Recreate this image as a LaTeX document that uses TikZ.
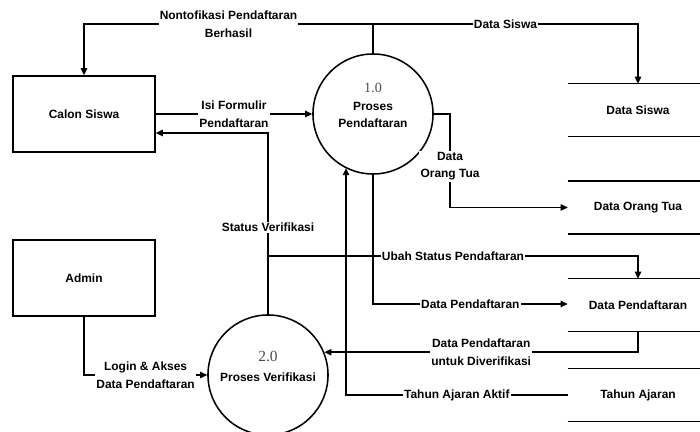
\documentclass[tikz,border=0pt]{standalone}
\usepackage{fontspec}
\setmainfont{Liberation Sans}
\newfontfamily\numfont{Liberation Serif}
\usetikzlibrary{arrows.meta}
\tikzstyle{entity} = [rectangle, minimum width=3.55cm, minimum height=1.9cm, text centered, draw=black, line width=1.1pt, font=\fontsize{8.5}{12.5}\selectfont\bfseries]
\tikzstyle{process} = [circle, minimum size=3cm, inner sep=0pt, draw=black, line width=1.1pt]
\tikzstyle{proctext} = [align=center, yshift=6pt, font=\fontsize{8.5}{12.5}\selectfont\bfseries]
\tikzstyle{datastore} = [rectangle, minimum width=3.5cm, minimum height=1.3cm, inner sep=0pt, text centered, font=\fontsize{8.5}{12.5}\selectfont\bfseries]
\tikzstyle{lbl} = [fill=white, inner sep=0.8pt, align=center, font=\fontsize{8.5}{12.5}\selectfont\bfseries]
\tikzstyle{arrow} = [line width=1.1pt,-{Triangle[length=5pt,width=4.5pt]}]

\begin{document}
\begin{tikzpicture}[x=0.025cm, y=-0.025cm]
    \useasboundingbox (0,0) rectangle (700,432);
    % Nodes
    \node (calon) [entity] at (84,114) {Calon Siswa};
    \node (admin) [entity] at (84,278) {Admin};
    \node (p1) [process, label={[proctext]center:{{\numfont\mdseries\color{black!70}\fontsize{10}{12}\selectfont 1.0}\\Proses\\Pendaftaran}}] at (373,114) {};
    \node (p2) [process, label={[proctext]center:{{\numfont\mdseries\color{black!70}\fontsize{11}{13}\selectfont 2.0}\\[2pt]Proses Verifikasi}}] at (268,375) {};
    \node (dsiswa) [datastore] at (638,110) {Data Siswa};
    \node (dortu) [datastore] at (638,207.5) {Data Orang Tua};
    \node (dpend) [datastore] at (638,305) {Data Pendaftaran};
    \node (tahun) [datastore] at (638,395) {Tahun Ajaran};
    \foreach \s in {dsiswa,dortu,dpend,tahun}
        \draw [line width=1.1pt] (\s.north west) -- (\s.north east) (\s.south west) -- (\s.south east);

    % Bends
    \coordinate (top) at (373,24);
    \coordinate (notif) at (84,24);
    \coordinate (sv) at (268,133);
    \coordinate (us) at (268,256);
    \coordinate (dp) at (373,304);
    \coordinate (ot) at (450,114);
    \coordinate (ta) at (346,395);

    % Arrows
    \draw [arrow] (p1.north) -- (top) -- node[lbl]{Nontofikasi Pendaftaran\\Berhasil} (notif) -- (calon.north);
    \draw [arrow] (top) -- node[lbl]{Data Siswa} (dsiswa.north |- top) -- (dsiswa.north);
    \draw [arrow] (calon.east) -- node[lbl]{Isi Formulir\\Pendaftaran} (p1.west);
    \draw [arrow] (p2.north) -- node[lbl, pos=0.48]{Status Verifikasi} (sv) -- (calon.east |- sv);
    \draw [arrow] (us) -- node[lbl]{Ubah Status Pendaftaran} (dpend.north |- us) -- (dpend.north);
    \draw [arrow] (p1.south) -- (dp) -- node[lbl]{Data Pendaftaran} (dpend.west |- dp);
    \draw [arrow] (dpend.south) |- node[lbl, pos=0.75]{Data Pendaftaran\\untuk Diverifikasi} (p2.22);
    \draw [arrow] (tahun.west) -- node[lbl]{Tahun Ajaran Aktif} (ta) -- (ta |- p1.243);
    \draw [arrow] (p1.east) -- (ot) |- node[lbl, pos=0.28]{Data\\Orang Tua} (dortu.west);
    \draw [arrow] (admin.south) |- node[lbl, pos=0.75]{Login \& Akses\\Data Pendaftaran} (p2.west);
\end{tikzpicture}
\end{document}
